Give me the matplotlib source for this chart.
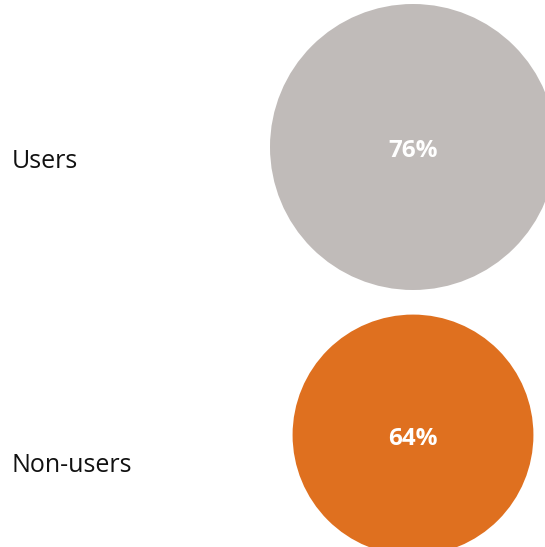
import matplotlib
matplotlib.use("Agg")
import matplotlib.pyplot as plt
from matplotlib.patches import Circle

# share of each group
groups = ["Users", "Non-users"]
values = [76, 64]
colors = ["#c0bbb9", "#df701f"]

W, H = 545, 547
fig = plt.figure(figsize=(W / 100, H / 100), dpi=100)
ax = fig.add_axes([0, 0, 1, 1])
ax.set_xlim(0, W)
ax.set_ylim(H, 0)
ax.set_aspect("equal")
ax.axis("off")

# bubble radius scales with the value
px_per_pt = 143 / 76
cx = 413
centers_y = [147, 435]
label_y = [162, 465]

for name, val, col, cy, ly in zip(groups, values, colors, centers_y, label_y):
    ax.add_patch(Circle((cx, cy), val * px_per_pt, color=col, lw=0))
    ax.text(cx, cy + 4, f"{val}%", ha="center", va="center", color="white",
            fontsize=17.5, fontweight="bold", family="Open Sans")
    ax.text(12, ly, name, ha="left", va="center", color="#111111",
            fontsize=18, family="Open Sans")

fig.savefig("out.png", dpi=100)
